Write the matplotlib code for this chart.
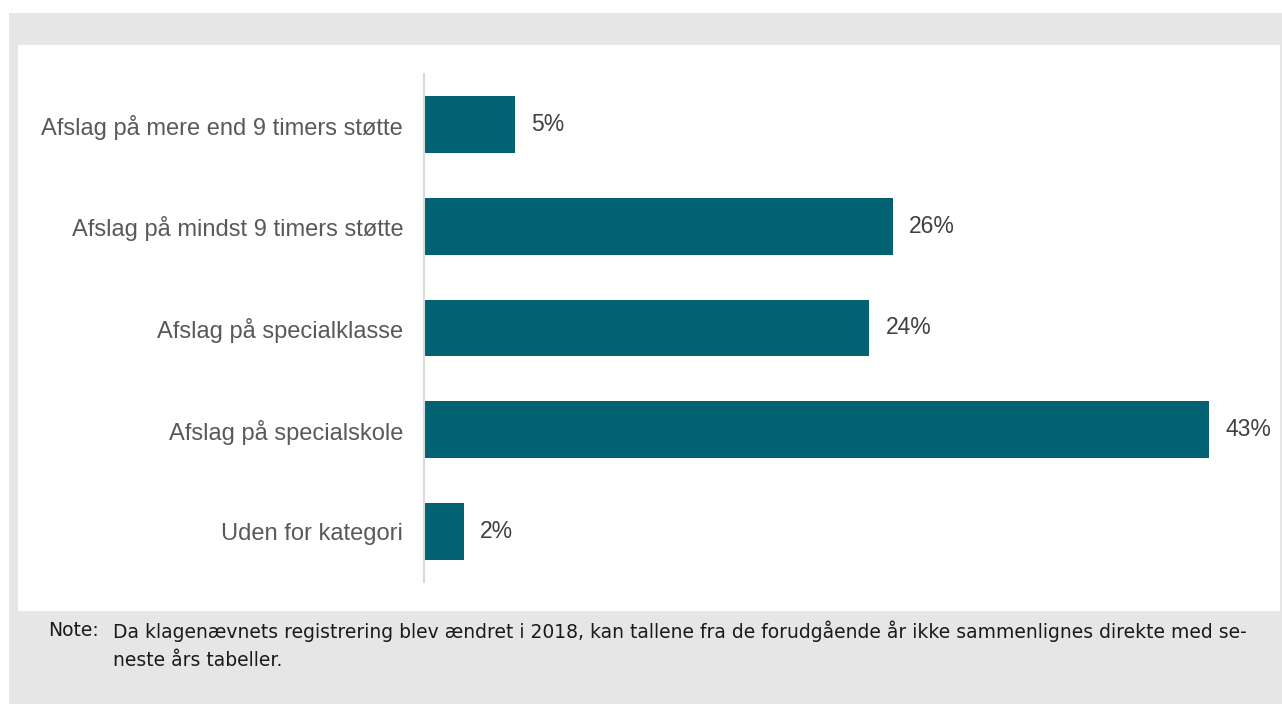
import matplotlib.pyplot as plt
from matplotlib.patches import Rectangle

# Data
categories = [
    "Afslag på mere end 9 timers støtte",
    "Afslag på mindst 9 timers støtte",
    "Afslag på specialklasse",
    "Afslag på specialskole",
    "Uden for kategori",
]
values = [5.0, 25.7, 24.4, 43.0, 2.2]
note_label = "Note:"
note_lines = [
    "Da klagenævnets registrering blev ændret i 2018, kan tallene fra de forudgående år ikke sammenlignes direkte med se-",
    "neste års tabeller.",
]

W, H = 1282, 704
fig = plt.figure(figsize=(W / 100, H / 100), dpi=100)
fig.patch.set_facecolor("white")

# Grey frame and white panel
fig.patches.append(Rectangle((9 / W, 0), 1 - 9 / W, 1 - 13 / H, transform=fig.transFigure,
                             facecolor="#e6e6e6", edgecolor="none", zorder=-2))
fig.patches.append(Rectangle((18 / W, 1 - 611 / H), (1280 - 18) / W, (611 - 45) / H,
                             transform=fig.transFigure, facecolor="white", edgecolor="none", zorder=-1))

# Axes: left edge at bar base, scale so 43% ends at x=1209
x0, x43 = 424, 1209
px_per = (x43 - x0) / 43.0
right = 1260
ax = fig.add_axes([x0 / W, 1 - 582 / H, (right - x0) / W, (582 - 74) / H])
ax.set_zorder(2)
ax.set_facecolor("none")
ax.set_xlim(0, (right - x0) / px_per)
ax.set_ylim(len(categories) - 0.5, -0.5)

ypos = list(range(len(categories)))
ax.barh(ypos, values, height=0.56, color="#036271", edgecolor="none", zorder=2)

for y, v in zip(ypos, values):
    ax.text(v + 16 / px_per, y, f"{v:.0f}%", va="center", ha="left",
            fontsize=16.5, color="#404040", family="Liberation Sans")

ax.set_yticks(ypos)
ax.set_yticklabels(categories, fontsize=17, color="#595959", family="Liberation Sans")
ax.tick_params(axis="y", length=0, pad=15)
ax.set_xticks([])
for s in ["top", "right", "bottom"]:
    ax.spines[s].set_visible(False)
ax.spines["left"].set_color("#d9d9d9")
ax.spines["left"].set_linewidth(1.5)

# Note
fig.text(48 / W, 1 - 631 / H, note_label, fontsize=13.5, color="#1a1a1a",
         family="DejaVu Sans", va="center", ha="left")
for i, line in enumerate(note_lines):
    fig.text(113 / W, 1 - (631 + 30 * i) / H, line, fontsize=13.5, color="#1a1a1a",
             family="DejaVu Sans", va="center", ha="left")

fig.savefig("out.png", dpi=100, facecolor=fig.get_facecolor())
